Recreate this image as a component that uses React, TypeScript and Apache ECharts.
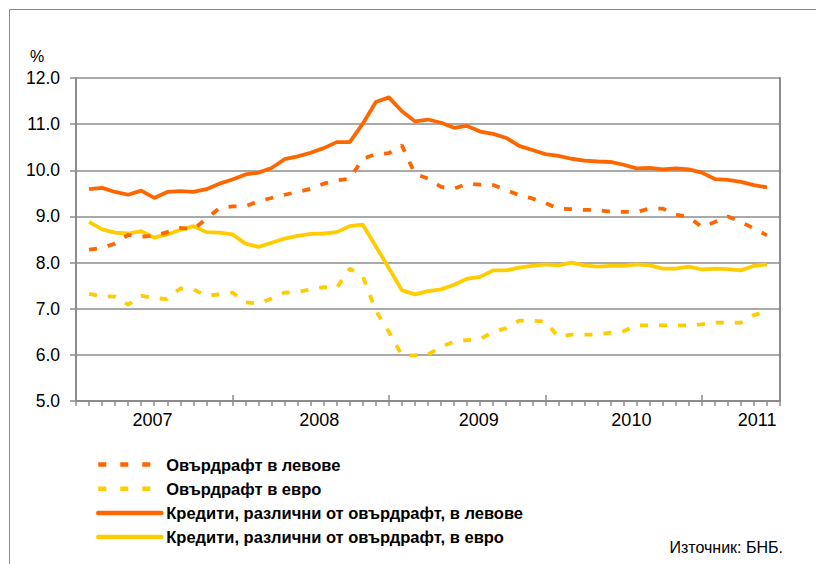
import React, { useEffect, useRef } from "react";
import * as echarts from "echarts";

// Month-end points: index 0 = start of Jan 2007, index 54 = end of Jun 2011
const months: string[] = [];
for (let y = 2006; y <= 2011; y++) {
  for (let m = 1; m <= 12; m++) {
    if ((y === 2006 && m < 12) || (y === 2011 && m > 6)) continue;
    months.push(`${String(m).padStart(2, "0")}.${y}`);
  }
}

const yearLabels = ["2007", "2008", "2009", "2010", "2011"];
const yearLabelPos = [5.87, 18.65, 30.9, 42.6, 52.25];
const majorTickPos = [0, 12, 24, 36, 48];

const overdraftBGN = [
  null,
  8.28, 8.32, 8.41, 8.6, 8.56, 8.58, 8.66, 8.75, 8.72, 8.95, 9.18, 9.22,
  9.22, 9.33, 9.4, 9.47, 9.53, 9.6, 9.71, 9.78, 9.82, 10.25, 10.35, 10.37,
  10.54, 9.92, 9.82, 9.64, 9.6, 9.71, 9.69, 9.68, 9.57, 9.46, 9.39, 9.29,
  9.17, 9.16, 9.14, 9.14, 9.1, 9.1, 9.1, 9.17, 9.17, 9.04, 8.99, 8.77,
  8.88, 9.0, 8.88, 8.74, 8.59,
  null,
];

const overdraftEUR = [
  null,
  7.32, 7.27, 7.26, 7.09, 7.28, 7.23, 7.21, 7.44, 7.42, 7.28, 7.31, 7.35,
  7.14, 7.11, 7.22, 7.35, 7.36, 7.42, 7.47, 7.45, 7.87, 7.7, 6.95, 6.5,
  5.99, 5.99, 6.01, 6.17, 6.29, 6.32, 6.34, 6.5, 6.58, 6.74, 6.74, 6.72,
  6.39, 6.44, 6.44, 6.44, 6.48, 6.51, 6.64, 6.64, 6.64, 6.64, 6.64, 6.66,
  6.7, 6.7, 6.7, 6.86, 6.95,
  null,
];

const loansBGN = [
  null,
  9.59, 9.62, 9.53, 9.47, 9.56, 9.4, 9.53, 9.55, 9.53, 9.59, 9.71, 9.8,
  9.91, 9.95, 10.05, 10.24, 10.3, 10.38, 10.48, 10.61, 10.61, 11.01, 11.48, 11.58,
  11.28, 11.06, 11.1, 11.03, 10.92, 10.96, 10.84, 10.79, 10.7, 10.53, 10.44, 10.35,
  10.31, 10.25, 10.21, 10.19, 10.18, 10.12, 10.04, 10.05, 10.02, 10.04, 10.02, 9.95,
  9.81, 9.79, 9.75, 9.68, 9.63,
  null,
];

const loansEUR = [
  null,
  8.88, 8.72, 8.65, 8.63, 8.68, 8.54, 8.61, 8.71, 8.79, 8.66, 8.65, 8.61,
  8.41, 8.34, 8.43, 8.52, 8.58, 8.62, 8.63, 8.66, 8.79, 8.82, 8.35, 7.88,
  7.4, 7.31, 7.38, 7.42, 7.52, 7.65, 7.69, 7.83, 7.83, 7.89, 7.93, 7.96,
  7.94, 8.0, 7.94, 7.91, 7.93, 7.93, 7.96, 7.94, 7.87, 7.87, 7.91, 7.85,
  7.87, 7.86, 7.83, 7.93, 7.96,
  null,
];

const seriesNames = [
  "Овърдрафт в левове",
  "Овърдрафт в евро",
  "Кредити, различни от овърдрафт, в левове",
  "Кредити, различни от овърдрафт, в евро",
];

const ORANGE = "#FF6600";
const YELLOW = "#FFCC00";
const GRID_GRAY = "#8c8c8c";
const FONT = "'Liberation Sans', Arial, sans-serif";

export default function App() {
  const ref = useRef<HTMLDivElement>(null);

  useEffect(() => {
    if (!ref.current) return;
    const chart = echarts.init(ref.current, undefined, { renderer: "svg" });
    const dash = [8, 11];
    const lineW = 3.8;
    const axisLine = { show: true, onZero: false, lineStyle: { color: GRID_GRAY, width: 2 } };
    const hiddenSymbol = { opacity: 0 };

    chart.setOption({
      animation: false,
      backgroundColor: "#ffffff",
      grid: { left: 76, right: 36, top: 78, bottom: 163 },
      xAxis: [
        {
          type: "category",
          data: months,
          boundaryGap: false,
          axisLine,
          axisTick: { show: true, interval: 0, length: 5, lineStyle: { color: GRID_GRAY, width: 1.5 } },
          axisLabel: { show: false },
          splitLine: { show: false },
        },
        {
          type: "value",
          min: 0,
          max: 54,
          position: "bottom",
          axisLine: { show: false },
          axisTick: {
            show: true,
            inside: true,
            length: 6,
            customValues: majorTickPos,
            lineStyle: { color: GRID_GRAY, width: 1.5 },
          },
          axisLabel: { show: false },
          splitLine: { show: false },
        },
        {
          type: "value",
          min: 0,
          max: 54,
          position: "bottom",
          axisLine: { show: false },
          axisTick: { show: false },
          axisLabel: {
            show: true,
            customValues: yearLabelPos,
            formatter: (v: number) => {
              const i = yearLabelPos.findIndex((p) => Math.abs(p - v) < 1e-6);
              return i >= 0 ? yearLabels[i] : "";
            },
            fontSize: 18,
            fontFamily: FONT,
            color: "#000",
            margin: 10,
          },
          splitLine: { show: false },
        },
      ],
      yAxis: [
        {
          type: "value",
          min: 5,
          max: 12,
          interval: 1,
          axisLine,
          axisTick: { show: true, length: 6, lineStyle: { color: GRID_GRAY, width: 1.5 } },
          axisLabel: {
            formatter: (v: number) => v.toFixed(1),
            fontSize: 17.5,
            fontFamily: FONT,
            color: "#000",
            margin: 16,
          },
          splitLine: { show: true, lineStyle: { color: GRID_GRAY, width: 1.5 } },
        },
        {
          type: "value",
          min: 5,
          max: 12,
          position: "right",
          axisLine,
          axisTick: { show: false },
          axisLabel: { show: false },
          splitLine: { show: false },
        },
      ],
      legend: {
        orient: "vertical",
        left: 96,
        top: 456,
        padding: 0,
        itemWidth: 63,
        itemHeight: 14,
        itemGap: 7.2,
        textStyle: {
          fontSize: 16.5,
          fontWeight: "bold",
          fontFamily: FONT,
          color: "#000",
        },
        data: [
          { name: seriesNames[0], itemStyle: hiddenSymbol, lineStyle: { type: [8, 14], width: 4.5 } },
          { name: seriesNames[1], itemStyle: hiddenSymbol, lineStyle: { type: [8, 14], width: 4.5 } },
          { name: seriesNames[2], itemStyle: hiddenSymbol, lineStyle: { width: 4.5, cap: "round" } },
          { name: seriesNames[3], itemStyle: hiddenSymbol, lineStyle: { width: 4.5, cap: "round" } },
        ],
      },
      graphic: [
        {
          type: "rect",
          silent: true,
          z: -10,
          shape: { x: 9.5, y: 9.5, width: 1000, height: 1000 },
          style: { fill: "none", stroke: "#8a8a8a", lineWidth: 1 },
        },
        {
          type: "text",
          left: 30,
          top: 48,
          style: { text: "%", fontSize: 16, fontFamily: FONT, fill: "#000" },
        },
        {
          type: "text",
          right: 33,
          top: 539,
          style: { text: "Източник: БНБ.", fontSize: 16, fontFamily: FONT, fill: "#000" },
        },
      ],
      series: [
        {
          type: "line",
          name: seriesNames[0],
          data: overdraftBGN,
          symbol: "none",
          z: 3,
          itemStyle: { color: ORANGE },
          lineStyle: { color: ORANGE, width: lineW, type: dash },
        },
        {
          type: "line",
          name: seriesNames[1],
          data: overdraftEUR,
          symbol: "none",
          z: 3,
          itemStyle: { color: YELLOW },
          lineStyle: { color: YELLOW, width: lineW, type: dash },
        },
        {
          type: "line",
          name: seriesNames[2],
          data: loansBGN,
          symbol: "none",
          z: 2,
          itemStyle: { color: ORANGE },
          lineStyle: { color: ORANGE, width: lineW },
        },
        {
          type: "line",
          name: seriesNames[3],
          data: loansEUR,
          symbol: "none",
          z: 2,
          itemStyle: { color: YELLOW },
          lineStyle: { color: YELLOW, width: lineW },
        },
      ],
    });

    return () => chart.dispose();
  }, []);

  return (
    <div
      ref={ref}
      style={{ position: "fixed", left: 0, top: 0, width: 816, height: 564, background: "#fff" }}
    />
  );
}
